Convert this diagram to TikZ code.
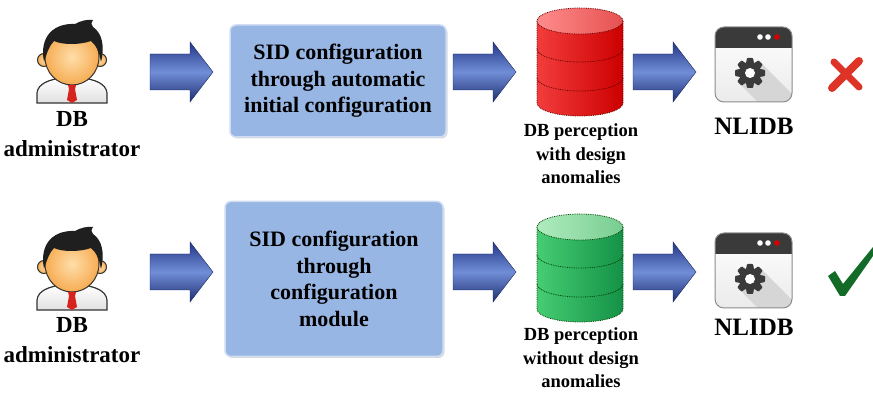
\documentclass[tikz,border=0pt]{standalone}
\usepackage{fontspec}
\setmainfont{Liberation Serif}
\usetikzlibrary{shadows}
\definecolor{arrowdark}{RGB}{36,54,135}
\definecolor{arrowlight}{RGB}{112,142,215}
\definecolor{boxfill}{RGB}{152,182,228}
\definecolor{boxedge}{RGB}{208,220,242}
\definecolor{skinlight}{RGB}{255,222,170}
\definecolor{skindark}{RGB}{246,172,82}
\definecolor{tiered}{RGB}{215,35,30}
\definecolor{iconbar}{RGB}{58,58,58}
\definecolor{crossred}{RGB}{222,52,40}
\definecolor{tickgreen}{RGB}{18,108,40}
\begin{document}
\begin{tikzpicture}[x=1pt,y=-1pt,
  lbl/.style={font=\bfseries\fontsize{23}{30}\selectfont, align=center, inner sep=0pt},
  dblbl/.style={font=\bfseries\fontsize{18.5}{23.5}\selectfont, align=center, inner sep=0pt},
  applbl/.style={font=\bfseries\fontsize{25}{30}\selectfont, inner sep=0pt},
  sidbox/.style={rounded corners=6pt, fill=boxfill, draw=boxedge, line width=1.5pt,
    drop shadow={opacity=0.3, shadow xshift=1.5pt, shadow yshift=-1.5pt},
    font=\bfseries\fontsize{22}{26.5}\selectfont, align=center, inner sep=0pt},
  barrow/.pic={
    \shade[top color=arrowdark, bottom color=arrowdark!85!black, middle color=arrowlight,
      draw=arrowdark!70!black, line width=0.4pt]
      (0,-18) -- (40,-18) -- (40,-30) -- (63,0) -- (40,30) -- (40,18) -- (0,18) -- cycle;
  },
  person/.pic={
    % shirt
    \shade[top color=white, bottom color=black!12, draw=black!80, line width=1.2pt]
      (-35,47) -- (-35,37) .. controls (-34,27) and (-22,24) .. (-12,22) -- (12,22)
      .. controls (22,24) and (34,27) .. (35,37) -- (35,47) -- cycle;
    % ears
    \shade[inner color=skinlight, outer color=skindark, draw=black!80, line width=1pt]
      (-28,4) circle (6.5);
    \shade[inner color=skinlight, outer color=skindark, draw=black!80, line width=1pt]
      (28,4) circle (6.5);
    % face
    \shade[inner color=skinlight, outer color=skindark, draw=black!80, line width=1pt]
      (0,1) ellipse [x radius=27, y radius=28];
    % tie
    \fill[tiered] (-4,29) -- (4,29) -- (3,33) -- (5,44) -- (0,47) -- (-5,44) -- (-3,33) -- cycle;
    % hair
    \fill[black!88]
      (-28,6) .. controls (-33,-20) and (-18,-33) .. (3,-32)
      .. controls (8,-35) and (16,-37) .. (21,-36)
      .. controls (19,-33) and (19,-31) .. (21,-29)
      .. controls (30,-23) and (33,-10) .. (29,6)
      .. controls (27,-5) and (24,-11) .. (19,-15)
      .. controls (8,-11) and (-10,-11) .. (-18,-15)
      .. controls (-23,-10) and (-25,-3) .. (-28,6) -- cycle;
  },
  dbcyl/.pic={
    \shade[left color=cyllight, right color=cyldark]
      (-43,0) -- (-43,82) arc[start angle=180, end angle=0, x radius=43, y radius=13]
      -- (43,0) -- cycle;
    \draw[cylline, densely dotted, line width=0.8pt]
      (-43,0) -- (-43,82) arc[start angle=180, end angle=0, x radius=43, y radius=13] -- (43,0);
    \draw[cylline, densely dotted, line width=0.8pt]
      (-43,28) arc[start angle=180, end angle=0, x radius=43, y radius=13];
    \draw[cylline, densely dotted, line width=0.8pt]
      (-43,57) arc[start angle=180, end angle=0, x radius=43, y radius=13];
    \shade[left color=cyltopl, right color=cyltopd] (0,0) ellipse [x radius=43, y radius=13];
    \draw[cylline, densely dotted, line width=0.8pt] (0,0) ellipse [x radius=43, y radius=13];
  },
  gear/.pic={
    \fill[iconbar] (0,0) circle (11);
    \foreach \a in {0,45,...,315}
      \fill[iconbar, rotate=\a, rounded corners=0.8pt] (-4.2,-9) -- (-3,-15) -- (3,-15) -- (4.2,-9) -- cycle;
    \fill[white] (0,0) circle (5);
  },
  appicon/.pic={
    \begin{scope}
      \clip[rounded corners=9pt] (0,0) rectangle (77,75);
      \shade[top color=white, bottom color=black!8] (0,0) rectangle (77,75);
      \fill[black!16] (45.6,35.4) -- (105.6,95.4) -- (84.4,116.6) -- (24.4,56.6) -- cycle;
      \fill[iconbar] (0,0) rectangle (77,21);
    \end{scope}
    \draw[black!45, line width=1pt, rounded corners=9pt] (0,0) rectangle (77,75);
    \fill[white] (45,10) circle (2.8);
    \fill[white] (53,10) circle (2.8);
    \fill[red!85!black] (62,10) circle (2.8);
    \pic at (35,46) {gear};
  }
]
\useasboundingbox (0,0) rectangle (873,395);

% ---- upper row: automatic initial configuration ----
\pic at (72,56) {person};
\node[lbl] (adm1) at (72,134) {DB\\administrator};
\pic at (150,72) {barrow};
\node[sidbox, minimum width=216, minimum height=112] (boxa) at (338,81)
  {SID configuration\\through automatic\\initial configuration};
\pic at (453,72) {barrow};
\begin{scope}
  \colorlet{cyllight}{red!75!white!95!black}
  \colorlet{cyldark}{red!80!black}
  \colorlet{cyltopl}{red!45!white}
  \colorlet{cyltopd}{red!65!white!90!black}
  \colorlet{cylline}{red!40!black}
  \pic at (580,21) {dbcyl};
\end{scope}
\node[dblbl] (db1) at (581,154) {DB perception\\with design\\anomalies};
\pic at (633,72) {barrow};
\pic at (715,27) {appicon};
\node[applbl] (app1) at (754,126) {NLIDB};
\draw[crossred, line width=7pt, line cap=round] (834,62) -- (859,87);
\draw[crossred, line width=8pt, line cap=round] (859,61) -- (832,88);

% ---- lower row: configuration module ----
\pic at (72,263) {person};
\node[lbl] (adm2) at (72,340) {DB\\administrator};
\pic at (150,272) {barrow};
\node[sidbox, minimum width=218, minimum height=155] (boxb) at (334,279)
  {SID configuration\\through\\configuration\\module};
\pic at (453,272) {barrow};
\begin{scope}
  \definecolor{cyllight}{RGB}{70,205,115}
  \definecolor{cyldark}{RGB}{20,145,70}
  \definecolor{cyltopl}{RGB}{175,235,190}
  \definecolor{cyltopd}{RGB}{120,205,145}
  \colorlet{cylline}{green!25!black}
  \pic at (580,227) {dbcyl};
\end{scope}
\node[dblbl] (db2) at (581,358) {DB perception\\without design\\anomalies};
\pic at (633,272) {barrow};
\pic at (715,233) {appicon};
\node[applbl] (app2) at (754,327) {NLIDB};
\fill[tickgreen] (828,276) -- (835,271) -- (843,284) -- (873,247) -- (873,256)
  -- (845,296) -- (840,296) -- cycle;
\end{tikzpicture}
\end{document}
